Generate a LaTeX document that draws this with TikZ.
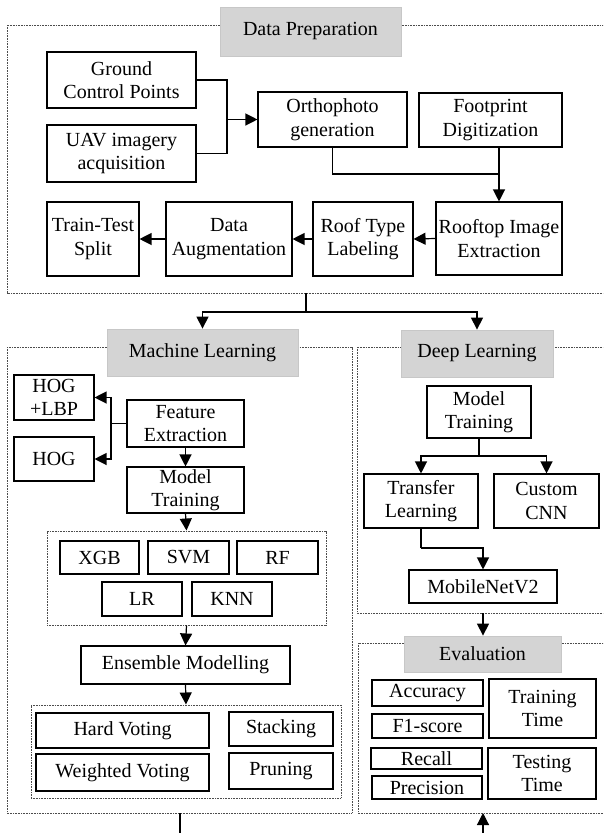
\documentclass[tikz,border=0pt]{standalone}
\usepackage{fontspec}
\setmainfont{Liberation Serif}
\usetikzlibrary{arrows.meta}
\begin{document}
\begin{tikzpicture}[x=1pt,y=-1pt,
  every node/.style={font=\fontsize{20}{23.5}\selectfont},
  box/.style={draw=black, line width=1.1pt, fill=white, inner sep=0pt, align=center},
  hdr/.style={draw=black!22, fill=black!17, line width=0.8pt, inner sep=0pt},
  frame/.style={draw=black!70, line width=1pt, dash pattern=on 1pt off 0.6pt},
  grp/.style={frame, inner sep=0pt},
  conn/.style={line width=1.2pt},
  arr/.style={conn, -{Triangle[length=12pt,width=12pt]}}]
\useasboundingbox (0,0) rectangle (603,833);
\clip (0,0) rectangle (603,833);
\fill[white] (0,0) rectangle (603,833);

% frames
\draw[frame] (7,25) rectangle (620,293);
\draw[frame] (7,347) rectangle (352,813);
\draw[frame] (357,347) rectangle (620,613);
\draw[frame] (358,643) rectangle (620,813);

% headers
\node[hdr, minimum width=181pt, minimum height=49pt] (hdp) at (310.5,31.5) {Data Preparation};
\node[hdr, minimum width=191pt, minimum height=47pt] (hml) at (202.5,352.5) {Machine Learning};
\node[hdr, minimum width=152pt, minimum height=47pt] (hdl) at (477,353.5) {Deep Learning};
\node[hdr, minimum width=157pt, minimum height=36pt] (hev) at (482.5,654) {Evaluation};

% Data preparation
\node[box, minimum width=149pt, minimum height=56pt] (gcp) at (121.5,80) {Ground\\Control Points};
\node[box, minimum width=149pt, minimum height=57pt] (uav) at (121.5,153.5) {UAV imagery\\acquisition};
\node[box, minimum width=149pt, minimum height=55pt] (ortho) at (332.5,119.5) {Orthophoto\\generation};
\node[box, minimum width=143pt, minimum height=54pt] (foot) at (490.5,120) {Footprint\\Digitization};
\node[box, minimum width=126pt, minimum height=73pt] (roof) at (499,238.5) {Rooftop Image\\Extraction};
\node[box, minimum width=100pt, minimum height=74pt] (rtl) at (363,239) {Roof Type\\Labeling};
\node[box, minimum width=126pt, minimum height=74pt] (aug) at (229,239) {Data\\Augmentation};
\node[box, minimum width=92pt, minimum height=74pt] (tts) at (93,239) {Train-Test\\Split};

\coordinate (j1) at (227,119.5);
\draw[conn] (gcp.east) -| (j1);
\draw[conn] (uav.east) -| (j1);
\draw[arr] (j1) -- (ortho.west);
\coordinate (j2) at (499,174);
\draw[conn] (ortho.south) |- (j2);
\draw[arr] (foot.south -| roof.north) -- (roof.north);
\draw[arr] (roof.west) -- (rtl.east);
\draw[arr] (rtl.west) -- (aug.east);
\draw[arr] (aug.west) -- (tts.east);

% split
\coordinate (dpb) at (306,293);
\coordinate (sp) at (306,312);
\draw[conn] (dpb) -- (sp);
\draw[arr] (sp) -| (hml.north);
\draw[arr] (sp) -| (hdl.north);

% Machine learning
\node[box, minimum width=80pt, minimum height=45pt] (hl) at (54,397.5) {HOG\\+LBP};
\node[box, minimum width=80pt, minimum height=44pt] (hog) at (54,459) {HOG};
\node[box, minimum width=117pt, minimum height=47pt] (fe) at (185.5,423.5) {Feature\\Extraction};
\node[box, minimum width=117pt, minimum height=46pt] (mt1) at (185.5,490) {Model\\Training};
\coordinate (j3) at (111,423.5);
\draw[conn] (fe.west) -- (j3);
\draw[arr] (j3) |- (hl.east);
\draw[arr] (j3) |- (hog.east);
\draw[arr] (fe.south) -- (mt1.north);

\node[grp, minimum width=279pt, minimum height=94pt] (g1) at (186.5,578) {};
\node[box, minimum width=79pt, minimum height=33pt] (xgb) at (99.5,557.5) {XGB};
\node[box, minimum width=81pt, minimum height=33pt] (svm) at (188.5,557.5) {SVM};
\node[box, minimum width=81pt, minimum height=33pt] (rf) at (277.5,557.5) {RF};
\node[box, minimum width=80pt, minimum height=34pt] (lr) at (142,599) {LR};
\node[box, minimum width=80pt, minimum height=34pt] (knn) at (232,599) {KNN};
\draw[arr] (mt1.south) -- (g1.north);

\node[box, minimum width=209pt, minimum height=38pt] (ens) at (185.5,665) {Ensemble Modelling};
\draw[arr] (g1.south) -- (ens.north);

\node[grp, minimum width=310pt, minimum height=93pt] (g2) at (186,751.5) {};
\node[box, minimum width=173pt, minimum height=35pt] (hard) at (122.5,730.5) {Hard Voting};
\node[box, minimum width=173pt, minimum height=37pt] (wv) at (122.5,772.5) {Weighted Voting};
\node[box, minimum width=104pt, minimum height=34pt] (stk) at (281,729) {Stacking};
\node[box, minimum width=104pt, minimum height=36pt] (prn) at (281,771) {Pruning};
\draw[arr] (ens.south) -- (g2.north);

\coordinate (mlb) at (180,813);
\coordinate (mlo) at (180,833);
\draw[conn] (mlb) -- (mlo);

% Deep learning
\node[box, minimum width=104pt, minimum height=52pt] (mt2) at (479,412) {Model\\Training};
\node[box, minimum width=114pt, minimum height=54pt] (tl) at (421,501) {Transfer\\Learning};
\node[box, minimum width=105pt, minimum height=54pt] (cnn) at (546.5,501) {Custom\\CNN};
\node[box, minimum width=148pt, minimum height=33pt] (mnet) at (483,586.5) {MobileNetV2};
\coordinate (j4) at (479,456);
\draw[conn] (mt2.south) -- (j4);
\draw[arr] (j4) -| (tl.north);
\draw[arr] (j4) -| (cnn.north);
\coordinate (j5) at (421,548);
\draw[conn] (tl.south) -- (j5);
\draw[arr] (j5) -| (mnet.north);

\coordinate (dlb) at (483,613);
\draw[arr] (dlb) -- (dlb |- hev.north);

% Evaluation
\node[box, minimum width=111pt, minimum height=26pt] (acc) at (427.5,693) {Accuracy};
\node[box, minimum width=111pt, minimum height=24pt] (f1) at (427.5,726) {F1-score};
\node[box, minimum width=111pt, minimum height=21pt] (rec) at (426.5,758.5) {Recall};
\node[box, minimum width=110pt, minimum height=23pt] (prec) at (427,787.5) {Precision};
\node[box, minimum width=107pt, minimum height=59pt] (trt) at (542.5,708.5) {Training\\Time};
\node[box, minimum width=108pt, minimum height=51pt] (tet) at (542,773.5) {Testing\\Time};

\coordinate (evin) at (483,833);
\coordinate (evb) at (483,813);
\draw[arr] (evin) -- (evb);
\end{tikzpicture}
\end{document}
